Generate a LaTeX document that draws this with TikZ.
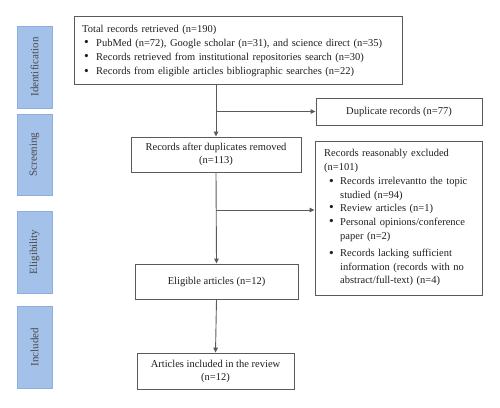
\documentclass[tikz,border=0pt]{standalone}
\usepackage{fontspec}
\setmainfont{Liberation Serif}
\usetikzlibrary{arrows.meta}
\definecolor{phase}{HTML}{A3C1E9}
\definecolor{phaseborder}{HTML}{8DAFDF}
\definecolor{phasetext}{HTML}{4A4A4A}
\definecolor{linegray}{HTML}{5A5A5A}
\definecolor{txt}{HTML}{1E1E1E}
\newcommand{\bul}{\makebox[12pt][l]{\raisebox{-0.3pt}{\fontsize{13.5}{13}\selectfont\textbullet}}}
\newcommand{\bulx}{\makebox[11pt][l]{\raisebox{-0.3pt}{\fontsize{13.5}{13}\selectfont\textbullet}}}
\begin{document}
\begin{tikzpicture}[x=1pt,y=-1pt,
  box/.style={draw=linegray, line width=0.9pt, inner sep=0pt, text=txt, align=center,
    font=\fontsize{10.5}{13}\selectfont},
  boxtext/.style={inner sep=0pt, text=txt, align=left, anchor=base west},
  phasebox/.style={draw=phaseborder, fill=phase, line width=0.6pt, rotate=90,
    minimum width=82pt, minimum height=35pt, inner sep=0pt, text=phasetext,
    font=\fontsize{11}{13}\selectfont},
  conn/.style={draw=linegray, line width=0.9pt},
  arr/.style={conn, -{Triangle[length=5pt,width=4.6pt]}}
]
\useasboundingbox (0,0) rectangle (500,407);

% phase labels
\node[phasebox] (pid) at (34.5,67) {Identification};
\node[phasebox, minimum width=81pt] (pscr) at (34.5,154.5) {Screening};
\node[phasebox] (pelig) at (34.5,252) {Eligibility};
\node[phasebox] (pinc) at (34.5,347) {Included};

% boxes
\node[box, minimum width=328pt, minimum height=68pt] (top) at (238,50) {};
\node[boxtext, text width=320pt, font=\fontsize{10.5}{14.3}\selectfont] (toptext) at (82,32)
  {Total records retrieved (n=190)\\
   \hspace*{2pt}\bul PubMed (n=72), Google scholar (n=31), and science direct (n=35)\\
   \hspace*{2pt}\bul Records retrieved from institutional repositories search (n=30)\\
   \hspace*{2pt}\bul Records from eligible articles bibliographic searches (n=22)};

\node[box, minimum width=166pt, minimum height=27pt] (dup) at (399,111.5) {Duplicate records (n=77)};
\node[box, minimum width=170pt, minimum height=35pt] (scr) at (216,154.5) {Records after duplicates removed\\(n=113)};
\node[box, minimum width=167pt, minimum height=154pt] (excl) at (398.5,218) {};
\node[boxtext, text width=155pt, font=\fontsize{10.5}{13.4}\selectfont] (excltext) at (324,156)
  {Records reasonably excluded\\[0.6pt]
   (n=101)\\[1.4pt]
   \hspace*{5pt}\bulx Records irrelevantto the topic\\
   \hspace*{16pt}studied (n=94)\\
   \hspace*{5pt}\bulx Review articles (n=1)\\[0.6pt]
   \hspace*{5pt}\bulx Personal opinions/conference\\
   \hspace*{16pt}paper (n=2)\\[4.4pt]
   \hspace*{5pt}\bulx Records lacking sufficient\\
   \hspace*{16pt}information (records with no\\
   \hspace*{16pt}abstract/full-text) (n=4)};
\node[box, minimum width=163pt, minimum height=35pt] (eli) at (216.5,281.5) {Eligible articles (n=12)};
\node[box, minimum width=157pt, minimum height=36pt] (inc) at (215.5,371) {Articles included in the review\\(n=12)};

% connectors
\draw[arr] (scr.north |- top.south) -- (scr.north);
\coordinate (b1) at (scr.north |- dup.west);
\draw[arr] (b1) -- (dup.west);
\draw[arr] (scr.south) -- (eli.north);
\coordinate (b2) at (216,210);
\draw[arr] (b2) -- (excl.west |- b2);
\draw[arr] (eli.south) -- (inc.north);
\end{tikzpicture}
\end{document}
